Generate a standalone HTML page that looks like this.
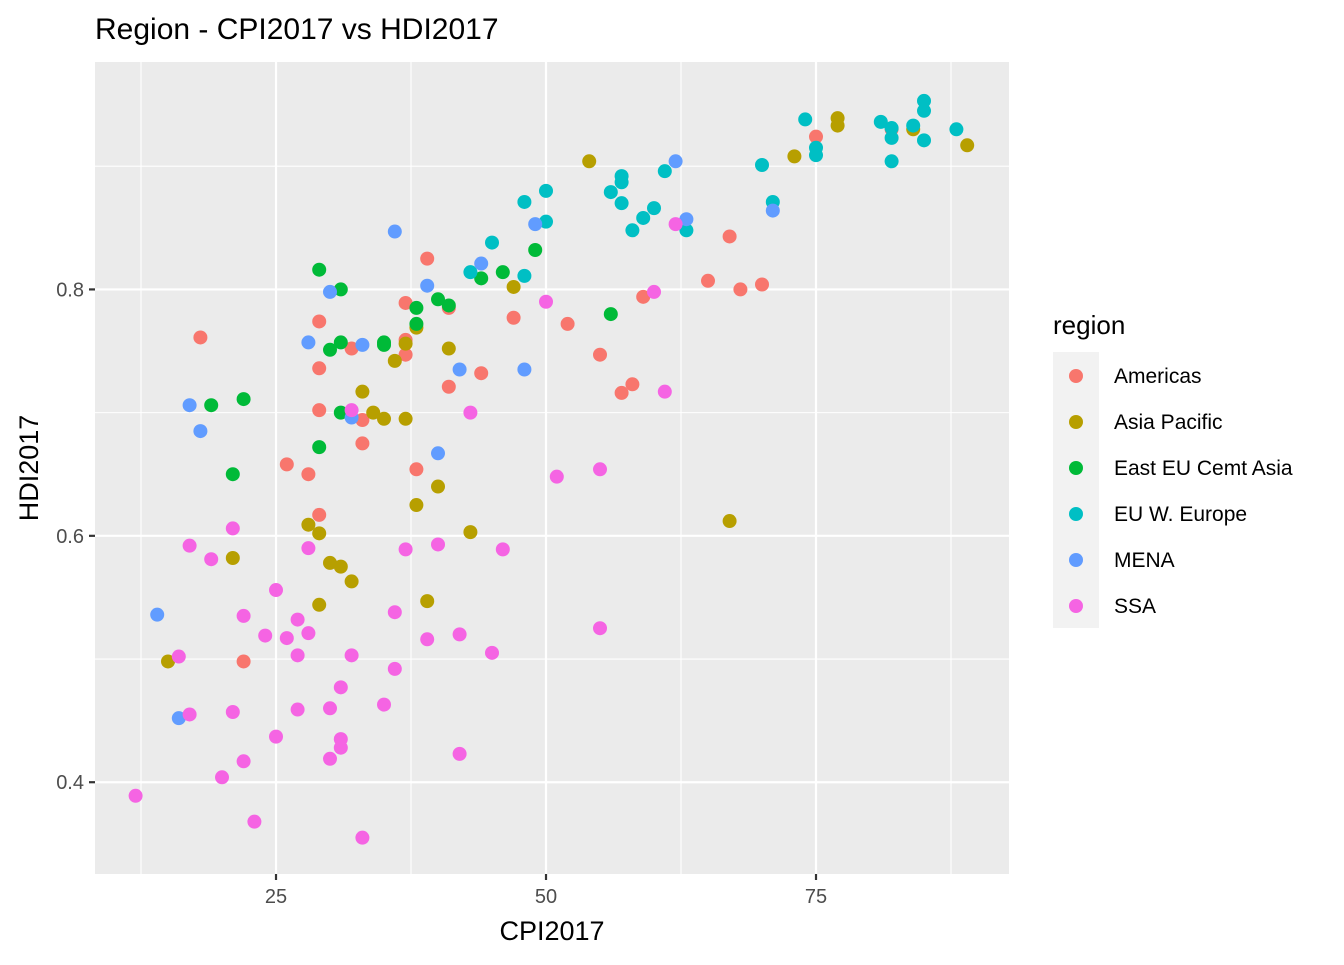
<!DOCTYPE html>
<html><head><meta charset="utf-8"><style>
body{margin:0;background:#fff;font-family:"Liberation Sans",Arial,sans-serif;}
svg text{font-family:"Liberation Sans",Arial,sans-serif;}
</style></head><body>
<svg id="chart" width="1344" height="960" viewBox="0 0 1344 960" xmlns="http://www.w3.org/2000/svg">
<text x="95" y="39" font-size="30" fill="#000">Region - CPI2017 vs HDI2017</text>
<rect x="95" y="62" width="914" height="812" fill="#EBEBEB"/>
<g id="grid"></g><g id="pts"></g><g id="axes"></g>
<text x="552" y="940" font-size="27" text-anchor="middle" fill="#000">CPI2017</text>
<text transform="translate(38,468) rotate(-90)" font-size="27" text-anchor="middle" fill="#000">HDI2017</text>
<g id="legend">
<text x="1053" y="334" font-size="26" fill="#000">region</text>
<rect x="1053" y="352" width="46" height="276" fill="#F2F2F2"/>
</g>
</svg>
<script>
const regions=["Americas","Asia Pacific","East EU Cemt Asia","EU W. Europe","MENA","SSA"];
const colors=["#F8766D","#B79F00","#00BA38","#00BFC4","#619CFF","#F564E3"];
const xTicks=[25,50,75];
const yTicks=[0.4,0.6,0.8];
const xTickLabels=["25","50","75"];
const yTickLabels=["0.4","0.6","0.8"];
const americasCPI=[18,75,67,65,68,70,59,52,47,55,58,57,39,37,41,29,32,37,37,29,41,44,29,33,33,26,28,38,29,22,82];
const americasHDI=[0.761,0.924,0.843,0.807,0.800,0.804,0.794,0.772,0.777,0.747,0.723,0.716,0.825,0.789,0.785,0.774,0.752,0.759,0.747,0.736,0.721,0.732,0.702,0.694,0.675,0.658,0.650,0.654,0.617,0.498,0.930];
const asiaCPI=[77,77,89,73,54,84,47,41,36,37,38,33,34,35,37,40,38,43,28,29,21,30,31,32,29,39,15,67];
const asiaHDI=[0.939,0.933,0.917,0.908,0.904,0.930,0.802,0.752,0.742,0.756,0.769,0.717,0.700,0.695,0.695,0.640,0.625,0.603,0.609,0.602,0.582,0.578,0.575,0.563,0.544,0.547,0.498,0.612];
const eastCPI=[29,31,40,41,38,49,46,44,56,31,30,35,35,38,22,19,31,29,21];
const eastHDI=[0.816,0.800,0.792,0.787,0.785,0.832,0.814,0.809,0.780,0.757,0.751,0.757,0.755,0.772,0.711,0.706,0.700,0.672,0.650];
const euCPI=[85,85,74,81,82,84,88,82,85,75,75,82,70,61,57,57,56,50,60,59,57,48,50,58,63,71,45,43,48];
const euHDI=[0.953,0.945,0.938,0.936,0.931,0.933,0.930,0.923,0.921,0.915,0.909,0.904,0.901,0.896,0.892,0.887,0.879,0.880,0.866,0.858,0.870,0.871,0.855,0.848,0.848,0.871,0.838,0.814,0.811];
const menaCPI=[62,63,71,49,36,44,39,30,28,33,42,48,32,40,17,18,14,16];
const menaHDI=[0.904,0.857,0.864,0.853,0.847,0.821,0.803,0.798,0.757,0.755,0.735,0.735,0.696,0.667,0.706,0.685,0.536,0.452];
const ssaCPI=[62,60,50,61,43,32,55,51,21,17,19,28,37,40,46,25,36,22,55,42,24,26,28,27,39,16,27,32,45,36,31,35,30,27,21,17,25,31,31,42,30,22,20,12,23,33];
const ssaHDI=[0.853,0.798,0.790,0.717,0.700,0.702,0.654,0.648,0.606,0.592,0.581,0.590,0.589,0.593,0.589,0.556,0.538,0.535,0.525,0.520,0.519,0.517,0.521,0.532,0.516,0.502,0.503,0.503,0.505,0.492,0.477,0.463,0.460,0.459,0.457,0.455,0.437,0.435,0.428,0.423,0.419,0.417,0.404,0.389,0.368,0.355];
const seriesCPI=[americasCPI,asiaCPI,eastCPI,euCPI,menaCPI,ssaCPI];
const seriesHDI=[americasHDI,asiaHDI,eastHDI,euHDI,menaHDI,ssaHDI];

const NS="http://www.w3.org/2000/svg";
const PL=95,PR=1009,PT=62,PB=874;
const xMin=8.24,xMax=92.87,yMin=0.3255,yMax=0.9846;
function sx(v){return PL+(v-xMin)/(xMax-xMin)*(PR-PL);}
function sy(v){return PB-(v-yMin)/(yMax-yMin)*(PB-PT);}
function mk(tag,attrs,parent){const e=document.createElementNS(NS,tag);for(const k in attrs)e.setAttribute(k,attrs[k]);parent.appendChild(e);return e;}
const grid=document.getElementById('grid'),axes=document.getElementById('axes'),pts=document.getElementById('pts');
for(let i=0;i<xTicks.length+1;i++){const v=xTicks[0]-12.5+25*i;if(v<xMin||v>xMax)continue;const l=mk('line',{x1:sx(v),x2:sx(v),y1:PT,y2:PB,stroke:'#fff','stroke-width':1.1},grid);

}
for(let i=0;i<yTicks.length+1;i++){const v=yTicks[0]-0.1+0.2*i;if(v<yMin||v>yMax)continue;const l=mk('line',{x1:PL,x2:PR,y1:sy(v),y2:sy(v),stroke:'#fff','stroke-width':1.1},grid);

}
xTicks.forEach((v,i)=>{
const l=mk('line',{x1:sx(v),x2:sx(v),y1:PT,y2:PB,stroke:'#fff','stroke-width':2.2},grid);


const t=mk('line',{x1:sx(v),x2:sx(v),y1:PB,y2:PB+6,stroke:'#333','stroke-width':2.2},axes);


const tx=mk('text',{x:sx(v),y:PB+29,'font-size':20,'text-anchor':'middle',fill:'#4D4D4D'},axes);tx.textContent=xTickLabels[i];


});
yTicks.forEach((v,i)=>{
const l=mk('line',{x1:PL,x2:PR,y1:sy(v),y2:sy(v),stroke:'#fff','stroke-width':2.2},grid);


const t=mk('line',{x1:PL-6,x2:PL,y1:sy(v),y2:sy(v),stroke:'#333','stroke-width':2.2},axes);


const tx=mk('text',{x:PL-11,y:sy(v)+7,'font-size':20,'text-anchor':'end',fill:'#4D4D4D'},axes);tx.textContent=yTickLabels[i];


});
seriesCPI.forEach((xs,s)=>{xs.forEach((x,i)=>{
const c=mk('circle',{cx:sx(x),cy:sy(seriesHDI[s][i]),r:7,fill:colors[s]},pts);


});});
const lg=document.getElementById('legend');
regions.forEach((r,i)=>{
const y=376+46*i;
const c=mk('circle',{cx:1076,cy:y,r:7,fill:colors[i]},lg);


const t=mk('text',{x:1114,y:y+7,'font-size':21,fill:'#000'},lg);t.textContent=r;


});
</script>
</body></html>
